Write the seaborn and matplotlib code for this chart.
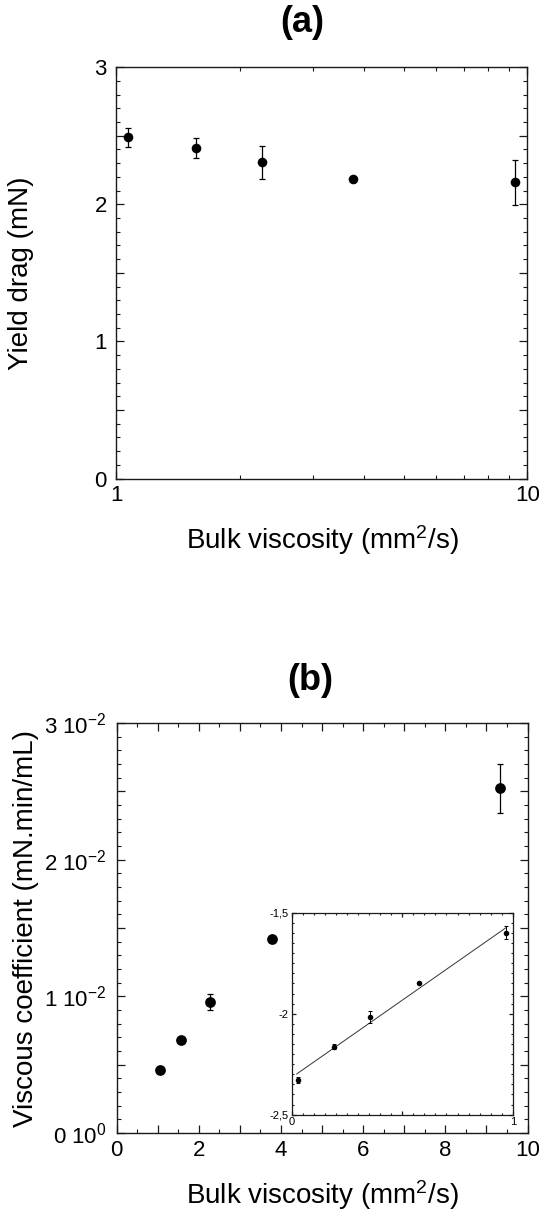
import numpy as np
import pandas as pd
import matplotlib
matplotlib.use("Agg")
import matplotlib.pyplot as plt
import seaborn as sns
from matplotlib.ticker import MultipleLocator, FixedLocator, FuncFormatter, NullFormatter

# ---------------- data ----------------
bulk_viscosity = [1.066, 1.563, 2.263, 3.77, 9.33]          # mm^2/s

yield_drag = [2.489, 2.407, 2.307, 2.186, 2.160]              # mN
yield_drag_err = [0.07, 0.073, 0.12, 0.0, 0.165]

viscous_coef = [0.00464, 0.00682, 0.00959, 0.0142, 0.02524]   # mN.min/mL
viscous_coef_err = [0.00016, 0.00019, 0.0006, 0.0, 0.0018]

inset_x = [0.027, 0.193, 0.355, 0.576, 0.971]
inset_y = [-2.328, -2.164, -2.016, -1.848, -1.598]
inset_err = [0.015, 0.012, 0.028, 0.0, 0.033]

panel_titles = ["(a)", "(b)"]
xlabel = "Bulk viscosity (mm$^2$/s)"
ylabel_a = "Yield drag (mN)"
ylabel_b = "Viscous coefficient (mN.min/mL)"
inset_ytick_vals = [-2.5, -2.0, -1.5]
inset_ytick_labels = ["-2,5", "-2", "-1,5"]

# ---------------- style ----------------
sns.set_theme(style="ticks")
plt.rcParams["font.family"] = ["Liberation Sans", "DejaVu Sans"]
plt.rcParams["mathtext.default"] = "regular"
plt.rcParams["axes.unicode_minus"] = False
plt.rcParams["text.color"] = "black"
plt.rcParams["axes.labelcolor"] = "black"
plt.rcParams["xtick.color"] = "black"
plt.rcParams["ytick.color"] = "black"

fig = plt.figure(figsize=(5.4, 12.1), dpi=100)
ax1 = fig.add_axes([0.2157, 0.6045, 0.761, 0.3400])
ax2 = fig.add_axes([0.2160, 0.0636, 0.761, 0.3388])

SPINE = "#1a1a1a"

def style_axes(ax, major_len=5.5, minor_len=3.0, lw=1.0, fs=16, pad=7):
    for sp in ax.spines.values():
        sp.set_color(SPINE)
        sp.set_linewidth(lw)
    ax.tick_params(which="both", direction="in", top=True, right=True,
                   colors=SPINE, labelcolor="black")
    ax.tick_params(which="major", length=major_len, width=0.9, labelsize=fs, pad=pad)
    ax.tick_params(which="minor", length=minor_len, width=0.8)
    ax.grid(False)

# ---------------- panel (a) ----------------
df_a = pd.DataFrame({"visc": bulk_viscosity, "drag": yield_drag, "err": yield_drag_err})
ax1.errorbar(df_a["visc"], df_a["drag"], yerr=df_a["err"], fmt="none",
             ecolor="black", elinewidth=0.9, capsize=2.3, capthick=0.9, zorder=2)
sns.scatterplot(data=df_a, x="visc", y="drag", ax=ax1, color="black", s=48,
                edgecolor="black", linewidth=0, zorder=3, legend=False)
ax1.set_xscale("log")
ax1.set_xlim(1, 10)
ax1.set_ylim(0, 3)
ax1.xaxis.set_major_locator(FixedLocator([1, 10]))
ax1.xaxis.set_major_formatter(FuncFormatter(lambda v, p: f"{v:g}"))
ax1.xaxis.set_minor_locator(FixedLocator([2, 3, 4, 5, 6, 7, 8, 9]))
ax1.xaxis.set_minor_formatter(NullFormatter())
ax1.yaxis.set_major_locator(MultipleLocator(0.5))
ax1.yaxis.set_major_formatter(FuncFormatter(lambda v, p: f"{v:.0f}" if abs(v - round(v)) < 1e-6 else ""))
ax1.yaxis.set_minor_locator(MultipleLocator(0.1))
style_axes(ax1)
ax1.tick_params(axis="x", which="major", pad=5)
ax1.set_xlabel(xlabel, fontsize=20)
ax1.set_ylabel(ylabel_a, fontsize=20)
ax1.xaxis.set_label_coords(0.5, -0.108)
ax1.yaxis.set_label_coords(-0.200, 0.5)
ax1.text(0.451, 1.108, panel_titles[0], transform=ax1.transAxes, ha="center", va="center",
         fontsize=26, fontweight="bold")

# ---------------- panel (b) ----------------
df_b = pd.DataFrame({"visc": bulk_viscosity, "coef": viscous_coef, "err": viscous_coef_err})
ax2.errorbar(df_b["visc"], df_b["coef"], yerr=df_b["err"], fmt="none",
             ecolor="black", elinewidth=0.9, capsize=2.3, capthick=0.9, zorder=2)
sns.scatterplot(data=df_b, x="visc", y="coef", ax=ax2, color="black", s=60,
                edgecolor="black", linewidth=0, zorder=3, legend=False)
ax2.set_xlim(0, 10)
ax2.set_ylim(0, 0.03)
ax2.xaxis.set_major_locator(MultipleLocator(1))
ax2.xaxis.set_major_formatter(FuncFormatter(lambda v, p: f"{v:.0f}" if int(round(v)) % 2 == 0 else ""))
ax2.xaxis.set_minor_locator(MultipleLocator(0.5))

def coef_fmt(v, p):
    k = v / 0.01
    if abs(k - round(k)) > 1e-6:
        return ""
    k = int(round(k))
    if k == 0:
        return "0 10$^{0}$"
    return f"{k} 10$^{{-2}}$"

ax2.yaxis.set_major_locator(MultipleLocator(0.005))
ax2.yaxis.set_major_formatter(FuncFormatter(coef_fmt))
ax2.yaxis.set_minor_locator(MultipleLocator(0.001))
style_axes(ax2)
ax2.tick_params(axis="x", which="major", pad=5)
ax2.set_xlabel(xlabel, fontsize=20)
ax2.set_ylabel(ylabel_b, fontsize=20)
ax2.xaxis.set_label_coords(0.5, -0.11)
ax2.yaxis.set_label_coords(-0.188, 0.5)
ax2.text(0.472, 1.105, panel_titles[1], transform=ax2.transAxes, ha="center", va="center",
         fontsize=26, fontweight="bold")

# ---------------- inset ----------------
axi = ax2.inset_axes([0.426, 0.045, 0.538, 0.492])
df_i = pd.DataFrame({"lx": inset_x, "ly": inset_y, "err": inset_err})
slope, intercept = np.polyfit(df_i["lx"], df_i["ly"], 1)
fit_x = np.array([df_i["lx"].min() - 0.005, df_i["lx"].max()])
df_fit = pd.DataFrame({"lx": fit_x, "ly": slope * fit_x + intercept})
sns.lineplot(data=df_fit, x="lx", y="ly", ax=axi, color="#333333", linewidth=0.7, zorder=1)
axi.errorbar(df_i["lx"], df_i["ly"], yerr=df_i["err"], fmt="none",
             ecolor="black", elinewidth=0.7, capsize=1.3, capthick=0.7, zorder=2)
sns.scatterplot(data=df_i, x="lx", y="ly", ax=axi, color="black", s=16,
                edgecolor="black", linewidth=0, zorder=3, legend=False)
axi.set_xlim(0, 1)
axi.set_ylim(-2.5, -1.5)
axi.xaxis.set_major_locator(FixedLocator([0, 0.5, 1]))
axi.xaxis.set_major_formatter(FuncFormatter(lambda v, p: "0" if v == 0 else ("1" if v == 1 else "")))
axi.xaxis.set_minor_locator(MultipleLocator(0.05))
axi.yaxis.set_major_locator(FixedLocator(inset_ytick_vals))
axi.yaxis.set_major_formatter(FuncFormatter(
    lambda v, p: dict(zip(inset_ytick_vals, inset_ytick_labels)).get(round(v, 2), "")))
axi.yaxis.set_minor_locator(MultipleLocator(0.05))
style_axes(axi, major_len=3.0, minor_len=1.6, lw=0.9, fs=8, pad=2)
axi.set_xlabel("")
axi.set_ylabel("")
axi.set_facecolor("white")

fig.savefig("out.png", dpi=100)
